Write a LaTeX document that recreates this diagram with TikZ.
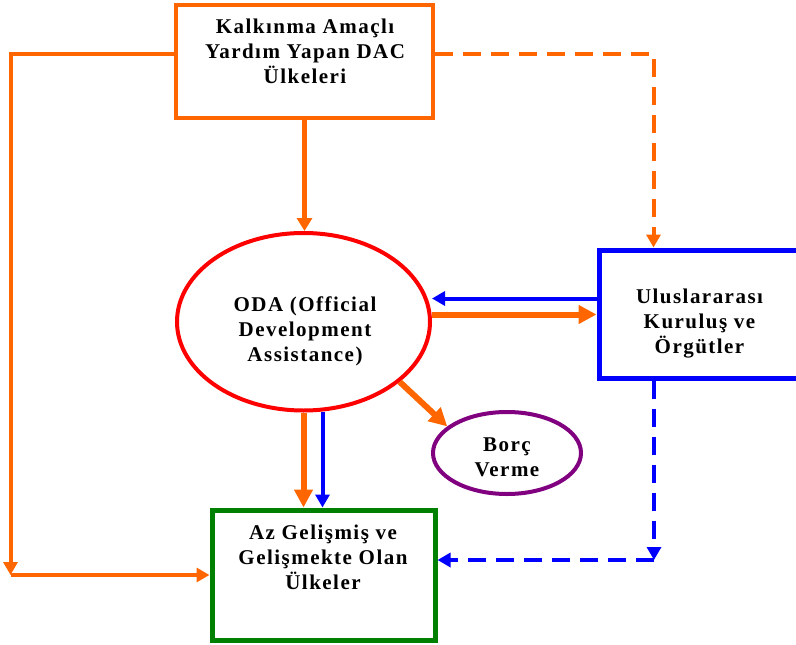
\documentclass[tikz,border=0pt]{standalone}
\usepackage{fontspec}
\setmainfont{Liberation Serif}
\newfontfamily\lblfont{Liberation Serif}[LetterSpace=7]
\usetikzlibrary{arrows.meta,shapes.geometric,calc}
\definecolor{cOr}{HTML}{FF6600}
\definecolor{cRed}{HTML}{FF0000}
\definecolor{cBlue}{HTML}{0000FF}
\definecolor{cGreen}{HTML}{008000}
\definecolor{cPurple}{HTML}{800080}
\begin{document}
\begin{tikzpicture}[x=1pt,y=-1pt,
  boxshape/.style={draw, rectangle, inner sep=0pt},
  lbl/.style={font=\lblfont\bfseries\fontsize{21}{25}\selectfont, align=center, inner sep=0pt, anchor=north, text=black},
  thinarrow/.style={line width=4pt, -{Triangle[length=13pt,width=14pt]}},
  thickarrow/.style={line width=6pt, -{Triangle[length=18pt,width=18pt]}},
  dashpat/.style={dash pattern=on 18pt off 10pt},
]
\useasboundingbox (0,0) rectangle (796,645);

% shapes
\node[boxshape, cOr, line width=4pt, minimum width=257pt, minimum height=113pt] (top) at (304.5,61) {};
\node[boxshape, cBlue, line width=5pt, minimum width=201pt, minimum height=128pt] (ub) at (699.5,314) {};
\node[boxshape, cGreen, line width=5pt, minimum width=223pt, minimum height=130pt] (az) at (323.5,575) {};
\node[draw, ellipse, cRed, line width=4pt, inner sep=0pt, minimum width=253pt, minimum height=177.5pt] (oda) at (303.5,321.75) {};
\node[draw, ellipse, cPurple, line width=4pt, inner sep=0pt, minimum width=148pt, minimum height=82pt] (borc) at (507,453) {};

% texts
\node[lbl] (topt) at (305,18.7) {Kalkınma Amaçlı\\Yardım Yapan DAC\\Ülkeleri};
\node[lbl] (odat) at (305,296.5) {ODA (Official\\Development\\Assistance)};
\node[lbl] (ubt) at (699.5,288.7) {Uluslararası\\Kuruluş ve\\Örgütler};
\node[lbl] (borct) at (507,437.1) {Borç\\Verme};
\node[lbl] (azt) at (323,524.7) {Az Gelişmiş ve\\Gelişmekte Olan\\Ülkeler};

% coordinates
\coordinate (lt) at (10.5,53.5);
\coordinate (lb) at (10.5,575);
\coordinate (rt) at (653.5,53.5);
\coordinate (rb) at (654,560);

% orange connectors
\draw[cOr, line width=5pt, -{Triangle[length=13pt,width=15pt]}] (top.south) -- (top.south |- oda.north);
\draw[cOr, thinarrow] (top.west |- lt) -- (lt) -- (lb);
\draw[cOr, thinarrow, line width=3.5pt] (lb) -- (az.west |- lb);
\draw[cOr, thinarrow, dashpat] (top.east |- rt) -- (rt) -- (ub.north -| rt);
\draw[cOr, thickarrow] (oda.east |- 0,314.5) -- (ub.west |- 0,314.5);
\draw[cOr, thickarrow] (oda.-32) -- (borc.156);
\draw[cOr, thickarrow] (oda.south) -- (az.north -| oda.south);

% blue connectors
\draw[cBlue, thinarrow] ($(oda.south)+(19,-1)$) -- (az.north -| 322.5,0);
\draw[cBlue, thinarrow] (ub.west |- 0,298.5) -- (oda.east |- 0,298.5);
\draw[cBlue, thinarrow, line width=4.5pt, dashpat] (ub.south -| rb) -- (rb);
\draw[cBlue, thinarrow, line width=4.5pt, dashpat] (rb) -- (az.east |- rb);
\end{tikzpicture}
\end{document}
